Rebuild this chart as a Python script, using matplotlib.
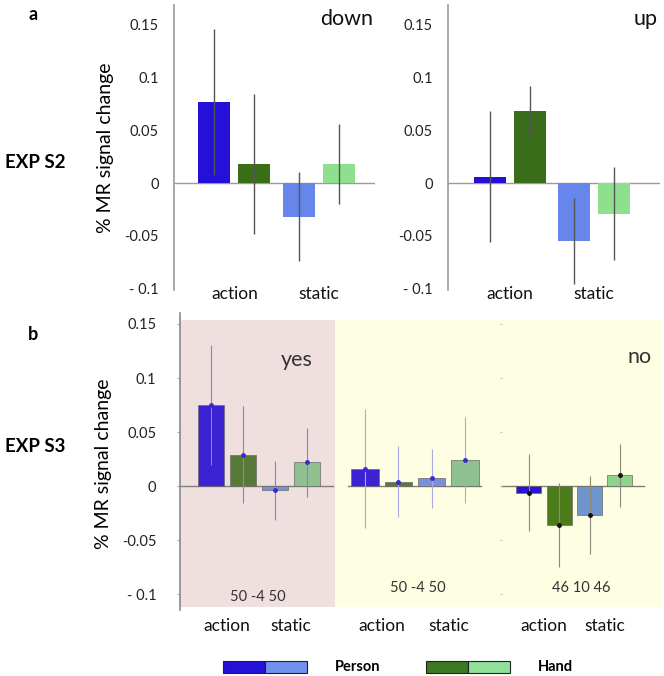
import matplotlib
matplotlib.use("Agg")
import matplotlib.pyplot as plt
from matplotlib.patches import Rectangle
import numpy as np

plt.rcParams['font.family'] = ['Lato', 'DejaVu Sans']

# ---------------- data ----------------
categories = ['action', 'static']
series = ['Person', 'Hand']
# bar order: Person-action, Hand-action, Person-static, Hand-static
down_means = [0.077, 0.018, -0.032, 0.018]
down_err = [0.069, 0.066, 0.042, 0.038]
up_means = [0.006, 0.068, -0.055, -0.029]
up_err = [0.062, 0.024, 0.041, 0.044]

yes_means = [0.075, 0.029, -0.004, 0.022]
yes_err = [0.056, 0.045, 0.027, 0.032]
mid_means = [0.016, 0.004, 0.007, 0.024]
mid_err = [0.055, 0.033, 0.027, 0.040]
no_means = [-0.006, -0.036, -0.027, 0.010]
no_err = [0.036, 0.039, 0.036, 0.029]

ytick_vals = [-0.1, -0.05, 0, 0.05, 0.1, 0.15]
ytick_labels = ['- 0.1', '-0.05', '0', '0.05', '0.1', '0.15']
n_labels = ['50 -4 50', '50 -4 50', '46 10 46']

# ---------------- style ----------------
W, H = 664, 676
fig = plt.figure(figsize=(W / 100, H / 100), dpi=100)


def rect(x0, y0, x1, y1):
    return [x0 / W, 1 - y1 / H, (x1 - x0) / W, (y1 - y0) / H]


colors_a = ['#2410d6', '#3a6e1a', '#6686ec', '#8ee08e']
colors_b1 = ['#3c22d2', '#587a38', '#7a8fd6', '#90c090']
colors_b3 = ['#2a14d4', '#4c7c1a', '#6f95cc', '#8ed48a']


def panel_a(ax, means, errs, label, xlim):
    x = np.array([0, 1, 2.1, 3.1])
    ax.bar(x, means, width=0.8, color=colors_a, zorder=2)
    ax.errorbar(x, means, yerr=errs, fmt='none', ecolor='#555555',
                elinewidth=1.0, capsize=0, zorder=3)
    ax.axhline(0, color='#9a9a9a', lw=1.0, zorder=1)
    ax.set_ylim(-0.1013, 0.1686)
    ax.set_xlim(*xlim)
    for s in ['top', 'right', 'bottom']:
        ax.spines[s].set_visible(False)
    ax.spines['left'].set_color('#9a9a9a')
    ax.spines['left'].set_linewidth(1.2)
    ax.set_yticks(ytick_vals)
    ax.set_yticklabels(ytick_labels)
    ax.tick_params(axis='y', length=0, pad=11, labelsize=10.5, labelcolor='#222222')
    ax.set_xticks([0.5, 2.6])
    ax.set_xticklabels(categories)
    ax.tick_params(axis='x', length=0, pad=-3, labelsize=12.5, labelcolor='#111111')
    ax.text(0.99, 0.985, label, transform=ax.transAxes, ha='right', va='top',
            fontsize=15.5, color='#111111')
    ax.patch.set_alpha(0)


a1 = fig.add_axes(rect(174, 5, 375, 290))
panel_a(a1, down_means, down_err, 'down', (-1.01, 4.01))
a1.set_ylabel('% MR signal change', fontsize=14, labelpad=7)
a2 = fig.add_axes(rect(448, 5, 660, 290))
panel_a(a2, up_means, up_err, 'up', (-1.04, 4.26))


def panel_b(ax, means, errs, colors, ecolor, dotcolor, bg, xlim, zx, nlab, nlab_y):
    x = np.arange(4)
    ax.set_facecolor(bg)
    ax.bar(x, means, width=0.82, color=colors, edgecolor='#6a6a6a', linewidth=0.5, zorder=2)
    ax.errorbar(x, means, yerr=errs, fmt='o', ms=2.5, color=dotcolor, ecolor=ecolor,
                elinewidth=0.8, capsize=0, zorder=3)
    ax.axhline(0, xmin=zx[0], xmax=zx[1], color='#808070', lw=1.0, zorder=1)
    ax.set_ylim(-0.112, 0.1537)
    ax.set_xlim(*xlim)
    for s in ['top', 'right', 'bottom', 'left']:
        ax.spines[s].set_visible(False)
    ax.set_xticks([0.5, 2.5])
    ax.set_xticklabels(categories)
    ax.tick_params(axis='x', length=0, pad=8, labelsize=12.5, labelcolor='#111111')
    ax.text(0.5, (nlab_y), nlab, transform=ax.transAxes, ha='center', va='center',
            fontsize=10.5, color='#333333')


b1 = fig.add_axes(rect(180, 320, 335, 607))
panel_b(b1, yes_means, yes_err, colors_b1, '#8a80dc', '#3a2ad0', '#efdfdf',
        (-0.97, 3.875), (0, 0.99), n_labels[0], 0.035)
b1.spines['left'].set_visible(True)
b1.spines['left'].set_color('#8a8a8a')
b1.spines['left'].set_linewidth(1.2)
b1.spines['left'].set_bounds(-0.115, 0.16)
b1.set_ylim(-0.112, 0.1537)
b1.set_yticks(ytick_vals)
b1.set_yticklabels(ytick_labels)
b1.tick_params(axis='y', length=2, color='#aaaaaa', pad=15, labelsize=10.5,
               labelcolor='#222222')
b1.set_ylabel('% MR signal change', fontsize=14, labelpad=7)
b1.text(0.75, 0.86, 'yes', transform=b1.transAxes, ha='center', va='center',
        fontsize=15.5, color='#333333')

b2 = fig.add_axes(rect(335, 320, 501, 607))
panel_b(b2, mid_means, mid_err, colors_b1, '#a8a8e6', '#3a2ad0', '#fefee2',
        (-0.9, 4.08), (0.08, 0.88), n_labels[1], 0.065)
b2.set_yticks([])

b3 = fig.add_axes(rect(501, 320, 662, 607))
panel_b(b3, no_means, no_err, colors_b3, '#8a8a7a', '#111111', '#fefee2',
        (-0.92, 4.39), (0.0, 0.89), n_labels[2], 0.065)
b3.set_yticks(ytick_vals)
b3.set_yticklabels([])
b3.tick_params(axis='y', length=1.5, color='#c8c8b0', direction='inout')
b3.text(0.86, 0.87, 'no', transform=b3.transAxes, ha='center', va='center',
        fontsize=15.5, color='#333333')

# panel letters & experiment labels
fig.text(33 / W, 1 - 15 / H, 'a', fontsize=13, fontweight='bold', ha='center', va='center')
fig.text(33 / W, 1 - 335 / H, 'b', fontsize=13, fontweight='bold', ha='center', va='center')
fig.text(5 / W, 1 - 163 / H, 'EXP S2', fontsize=13.5, fontweight='bold', ha='left', va='center')
fig.text(5 / W, 1 - 447 / H, 'EXP S3', fontsize=13.5, fontweight='bold', ha='left', va='center')

# legend
legend_colors = {'Person': ('#2410d6', '#6f92ec'), 'Hand': ('#3a7a22', '#90e09a')}
legend_pos = {'Person': 223, 'Hand': 426}
for name in series:
    x0 = legend_pos[name]
    c1, c2 = legend_colors[name]
    fig.add_artist(Rectangle((x0 / W, 1 - 673 / H), 42 / W, 12 / H,
                             facecolor=c1, edgecolor='#222222', lw=0.8, transform=fig.transFigure))
    fig.add_artist(Rectangle(((x0 + 42) / W, 1 - 673 / H), 42 / W, 12 / H,
                             facecolor=c2, edgecolor='#222222', lw=0.8, transform=fig.transFigure))
    fig.text((x0 + 112) / W, 1 - 667 / H, name, fontsize=10.5, fontweight='bold',
             ha='left', va='center')

fig.savefig('out.png', dpi=100)
